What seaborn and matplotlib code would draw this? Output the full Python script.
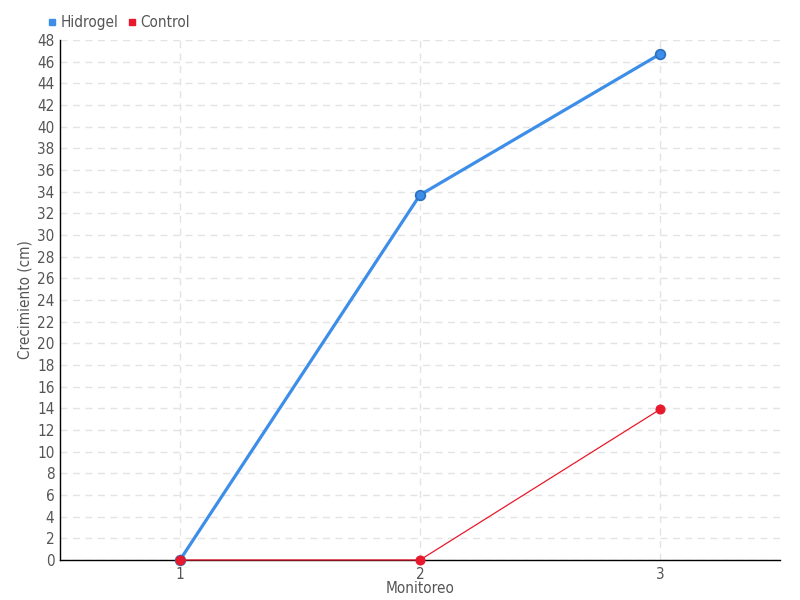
import matplotlib
matplotlib.use("Agg")
import matplotlib.pyplot as plt
import seaborn as sns
import pandas as pd
from matplotlib.lines import Line2D

monitoreo = [1, 2, 3]
hidrogel = [0, 33.7, 46.7]
control = [0, 0, 13.9]
series_names = ["Hidrogel", "Control"]
colors = {"Hidrogel": "#3d8ee8", "Control": "#e8192c"}

df = pd.DataFrame({
    "Monitoreo": monitoreo * 2,
    "Crecimiento": hidrogel + control,
    "Serie": ["Hidrogel"] * 3 + ["Control"] * 3,
})

sns.set_style("white")
plt.rcParams["font.family"] = ["DejaVu Sans", "Liberation Sans"]
plt.rcParams["font.stretch"] = "condensed"
txt = "#555555"

fig = plt.figure(figsize=(8, 6), dpi=100)
ax = fig.add_axes([0.075, 0.0667, 0.9, 0.8666])

sub = df[df.Serie == "Hidrogel"]
sns.lineplot(data=sub, x="Monitoreo", y="Crecimiento", ax=ax, color=colors["Hidrogel"],
             linewidth=2.3, marker="o", markersize=7, markeredgecolor="#2a6fc0",
             markeredgewidth=1.2, zorder=3, clip_on=False)
sub = df[df.Serie == "Control"]
sns.lineplot(data=sub, x="Monitoreo", y="Crecimiento", ax=ax, color=colors["Control"],
             linewidth=0.9, marker="o", markersize=6.5, markeredgecolor=colors["Control"],
             zorder=5, clip_on=False)

ax.set_xlim(0.5, 3.5)
ax.set_ylim(0, 48)
ax.set_xticks(monitoreo)
ax.set_xticklabels([str(m) for m in monitoreo])
ax.set_yticks(range(0, 49, 2))
ax.grid(True, color="#e3e3e3", linestyle=(0, (5, 4)), linewidth=1)
for s in ["top", "right"]:
    ax.spines[s].set_visible(False)
for s in ["left", "bottom"]:
    ax.spines[s].set_color("black")
    ax.spines[s].set_linewidth(1)
    ax.spines[s].set_zorder(2)
ax.tick_params(axis="y", direction="inout", length=6, color="black", labelsize=11, labelcolor=txt, pad=1)
ax.tick_params(axis="x", direction="out", length=8, color="#555555", labelsize=11, labelcolor=txt, pad=-3)
ax.set_xlabel("Monitoreo", fontsize=11, color=txt, labelpad=-1)
ax.set_ylabel("Crecimiento (cm)", fontsize=11, color=txt, labelpad=3)

handles = [Line2D([], [], marker="s", linestyle="", color=colors[n], markersize=5) for n in series_names]
fig.legend(handles, series_names, loc="upper left", bbox_to_anchor=(0.048, 0.99), ncol=2,
           frameon=False, handlelength=0.6, handletextpad=0.25, columnspacing=0.6,
           fontsize=11, labelcolor=txt, borderaxespad=0.2)

fig.savefig("out.png", dpi=100)
